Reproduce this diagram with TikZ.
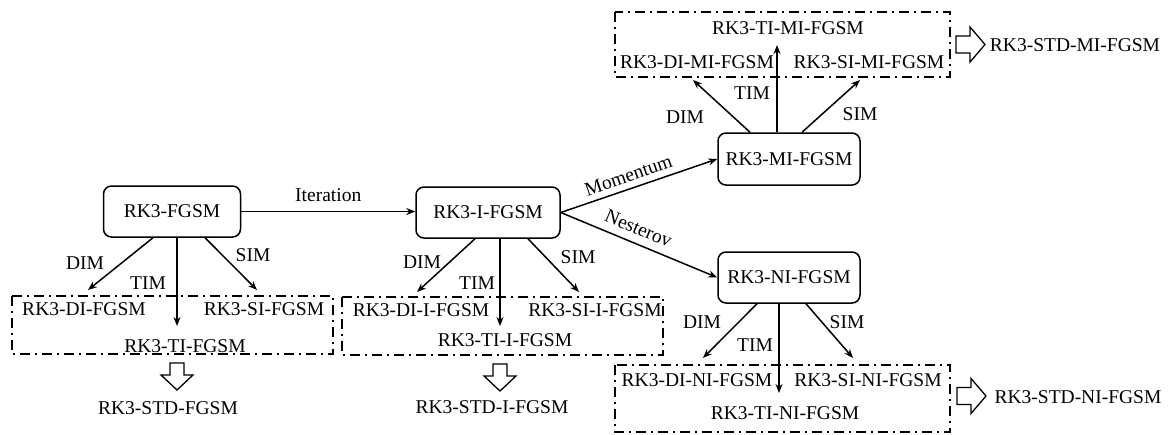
\documentclass[tikz,border=0pt]{standalone}
\usepackage{fontspec}
\setmainfont{Liberation Serif}
\usetikzlibrary{arrows.meta,calc}
\tikzset{
  method/.style={draw, line width=1.5pt, rounded corners=8pt, inner sep=0pt, minimum height=51pt},
  lbl/.style={inner sep=0pt},
  grp/.style={draw, line width=1.5pt, dash pattern=on 10pt off 5pt on 2pt off 5pt},
  conn/.style={line width=1.5pt, -{Stealth[length=9pt,width=7pt]}},
  hollow/.style={draw, line width=1.3pt, line join=miter},
  downhollow/.pic={\path[hollow] (-7,0) -- (7,0) -- (7,12) -- (16,12) -- (0,27) -- (-16,12) -- (-7,12) -- cycle;},
  righthollow/.pic={\path[hollow] (0,-8.5) -- (14,-8.5) -- (14,-17.5) -- (29,0) -- (14,17.5) -- (14,8.5) -- (0,8.5) -- cycle;}
}
\begin{document}
\begin{tikzpicture}[x=1pt,y=-1pt,font=\fontsize{19.5}{23}\selectfont]
\useasboundingbox (0,0) rectangle (1172,434);

% main method boxes
\node[method, minimum width=137pt] (fgsm) at (172,211.5) {RK3-FGSM};
\node[method, minimum width=144pt] (ifgsm) at (488,212.5) {RK3-I-FGSM};
\node[method, minimum width=142pt, minimum height=52pt] (mifgsm) at (789,159) {RK3-MI-FGSM};
\node[method, minimum width=142pt] (nifgsm) at (789,277.5) {RK3-NI-FGSM};

% group boxes
\draw[grp] (12,296) rectangle (333,354);
\draw[grp] (342,297) rectangle (663,355);
\draw[grp] (615,12) rectangle (950,77);
\draw[grp] (615,365) rectangle (950,432);

% group texts
\node[lbl] (di1) at (84,309) {RK3-DI-FGSM};
\node[lbl] (si1) at (264,309) {RK3-SI-FGSM};
\node[lbl] (ti1) at (185,346) {RK3-TI-FGSM};
\node[lbl] (di2) at (421,310) {RK3-DI-I-FGSM};
\node[lbl] (si2) at (595,310) {RK3-SI-I-FGSM};
\node[lbl] (ti2) at (505,340) {RK3-TI-I-FGSM};
\node[lbl] (ti3) at (788,28) {RK3-TI-MI-FGSM};
\node[lbl] (di3) at (697,62) {RK3-DI-MI-FGSM};
\node[lbl] (si3) at (869,62) {RK3-SI-MI-FGSM};
\node[lbl] (di4) at (697,380) {RK3-DI-NI-FGSM};
\node[lbl] (si4) at (868,380) {RK3-SI-NI-FGSM};
\node[lbl] (ti4) at (785,413) {RK3-TI-NI-FGSM};

% standard results
\node[lbl] (std1) at (168,408) {RK3-STD-FGSM};
\node[lbl] (std2) at (492,407) {RK3-STD-I-FGSM};
\node[lbl] (std3) at (1075,45) {RK3-STD-MI-FGSM};
\node[lbl] (std4) at (1078,397) {RK3-STD-NI-FGSM};

% hollow arrows
\pic at (177,363) {downhollow};
\pic at (500,364) {downhollow};
\pic at (956,44.5) {righthollow};
\pic at (957,396) {righthollow};

% main connectors
\draw[conn] (fgsm.east) -- node[lbl, above=9pt] (itl) {Iteration} (ifgsm.west |- fgsm.east);
\draw[conn] (ifgsm.east) -- node[lbl, sloped, above=6pt, pos=0.46] (mom) {Momentum} (mifgsm.west);
\draw[conn] (ifgsm.east) -- node[lbl, sloped, above=8pt, pos=0.46] (nes) {Nesterov} (nifgsm.west);

% branch end points
\coordinate (e1d) at (88,290);  \coordinate (e1t) at (177,326); \coordinate (e1s) at (257,290);
\coordinate (e2d) at (417,292); \coordinate (e2t) at (500,326); \coordinate (e2s) at (579,292);
\coordinate (e3d) at (693,80);  \coordinate (e3t) at (777,45);  \coordinate (e3s) at (860,80);
\coordinate (e4d) at (703,358); \coordinate (e4t) at (779,393); \coordinate (e4s) at (853,358);

% branches
\draw[conn] ($(fgsm.south)+(-19,0)$) -- (e1d);
\draw[conn] ($(fgsm.south)+(5,0)$) -- (e1t);
\draw[conn] ($(fgsm.south)+(33,0)$) -- (e1s);
\draw[conn] ($(ifgsm.south)+(-13,0)$) -- (e2d);
\draw[conn] ($(ifgsm.south)+(12,0)$) -- (e2t);
\draw[conn] ($(ifgsm.south)+(40,0)$) -- (e2s);
\draw[conn] ($(mifgsm.north)+(-39,0)$) -- (e3d);
\draw[conn] ($(mifgsm.north)+(-12,0)$) -- (e3t);
\draw[conn] ($(mifgsm.north)+(13,0)$) -- (e3s);
\draw[conn] ($(nifgsm.south)+(-32,0)$) -- (e4d);
\draw[conn] ($(nifgsm.south)+(-10,0)$) -- (e4t);
\draw[conn] ($(nifgsm.south)+(17,0)$) -- (e4s);

% branch labels
\node[lbl] (l1d) at (85,263) {DIM};  \node[lbl] (l1t) at (148,283) {TIM}; \node[lbl] (l1s) at (253,255) {SIM};
\node[lbl] (l2d) at (422,262) {DIM}; \node[lbl] (l2t) at (477,283) {TIM}; \node[lbl] (l2s) at (578,257) {SIM};
\node[lbl] (l3d) at (685,117) {DIM}; \node[lbl] (l3t) at (752,93) {TIM};  \node[lbl] (l3s) at (860,114) {SIM};
\node[lbl] (l4d) at (702,322) {DIM}; \node[lbl] (l4t) at (755,345) {TIM}; \node[lbl] (l4s) at (847,322) {SIM};
\end{tikzpicture}
\end{document}
